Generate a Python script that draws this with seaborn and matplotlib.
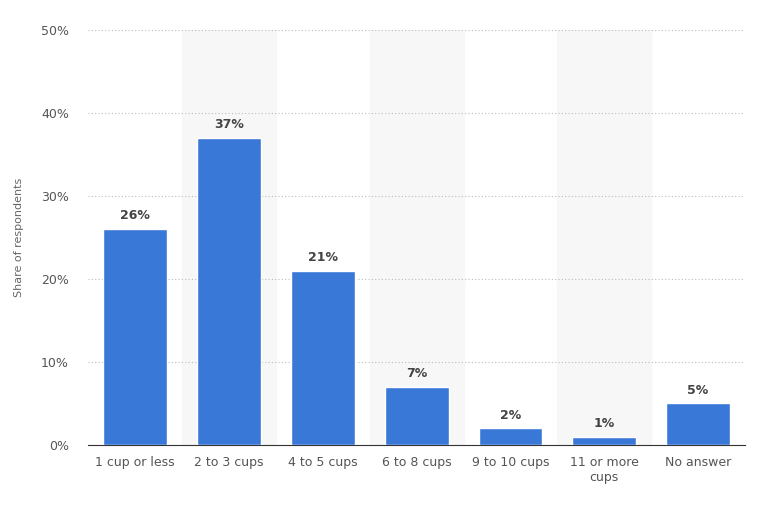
import matplotlib
matplotlib.use("Agg")
import matplotlib.pyplot as plt
import seaborn as sns
import pandas as pd

categories = ["1 cup or less", "2 to 3 cups", "4 to 5 cups", "6 to 8 cups", "9 to 10 cups", "11 or more\ncups", "No answer"]
values = [26, 37, 21, 7, 2, 1, 5]
yticks = [0, 10, 20, 30, 40, 50]

sns.set_style("white")
plt.rcParams['font.family'] = ['DejaVu Sans']
fig = plt.figure(figsize=(7.68, 5.05), dpi=100)
ax = fig.add_axes([0.115, 0.119, 0.855, 0.822])
df = pd.DataFrame({"cat": categories, "val": values})
for i in range(len(categories)):
    if i % 2 == 1:
        ax.axvspan(i - 0.5, i + 0.5, color="#f7f7f7", zorder=0)
sns.barplot(data=df, x="cat", y="val", color="#3a78d8", width=0.68, saturation=1, ax=ax, zorder=3)
for i, v in enumerate(values):
    ax.text(i, v + 0.8, f"{v}%", ha="center", va="bottom", fontsize=9, fontweight="bold", color="#444444")
ax.set_ylim(0, 50)
ax.set_xlim(-0.5, len(categories) - 0.5)
ax.set_yticks(yticks)
ax.set_yticklabels([f"{t}%" for t in yticks], fontsize=9, color="#555555")
ax.tick_params(axis="x", labelsize=9, colors="#555555", length=0, pad=8)
ax.tick_params(axis="y", length=0, pad=14)
ax.yaxis.grid(True, linestyle=(0, (1, 2)), color="#bbbbbb", linewidth=0.8, zorder=1)
ax.set_axisbelow(True)
for s in ["top", "right", "left"]:
    ax.spines[s].set_visible(False)
ax.spines["bottom"].set_color("#333333")
ax.set_xlabel("")
ax.set_ylabel("Share of respondents", fontsize=8, color="#666666", labelpad=12)
fig.savefig("out.png", dpi=100)
